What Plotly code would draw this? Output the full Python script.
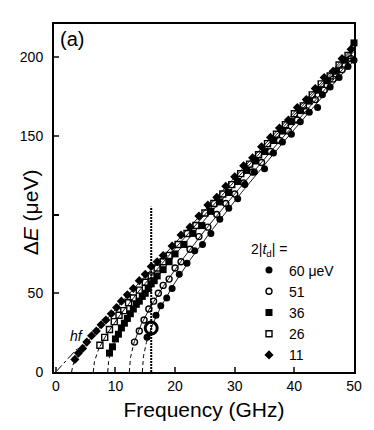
import numpy as np
import plotly.graph_objects as go

# ---- data ----
H_PLANCK = 4.1357  # ueV per GHz
couplings = [60, 51, 36, 26, 11]          # 2|t| in ueV
legend_labels = ["60 μeV", "51", "36", "26", "11"]
symbols = ["circle", "circle-open", "square", "square-open", "diamond"]

f60 = [15.3, 16.8, 17.6, 18.6, 19.5, 20.7, 22.0, 23.3, 24.6, 26.0, 27.5, 29.0, 30.5, 31.7,
       33.3, 35.0, 36.5, 38.0, 39.5, 41.0, 42.5, 43.9, 44.7, 46.0, 47.5, 49.0, 50.0]
e60 = [22, 36, 42, 47, 53, 62, 69, 77, 81, 88, 97, 104, 110, 119,
       127, 129, 139, 146, 151, 159, 165, 168, 176, 181, 187, 194, 198]

f51 = [13.2, 14.0, 14.8, 15.6, 16.4, 17.2, 18.0, 19.0, 20.0, 21.0, 22.5, 24.0, 25.5, 27.0,
       28.5, 30.0, 31.5, 33.0, 34.5, 36.0, 37.5, 39.0, 40.5, 42.0, 43.5, 45.0, 46.5, 48.0, 49.5]
e51 = [19, 26, 33, 40, 45, 50, 55, 59, 66, 70, 78, 86, 92, 100,
       107, 113, 120, 127, 133, 140, 147, 153, 160, 166, 173, 179, 186, 192, 199]

f36 = [9.0, 9.5, 10.0, 10.5, 11.0, 11.5, 12.0, 12.5, 13.0, 13.5, 14.0, 14.5, 15.0, 15.5,
       16.0, 16.5, 17.0, 18.0, 19.0, 20.0, 21.5, 23.0, 24.5, 26.0, 27.5, 29.0, 30.5, 32.0,
       33.5, 35.0, 36.5, 38.0, 39.5, 41.0, 42.5, 44.0, 45.5, 47.0, 48.5, 50.0]
e36 = [12, 16, 21, 24, 28, 31, 34, 37, 40, 43, 45, 48, 50, 53,
       56, 58, 61, 65, 70, 75, 81, 88, 93, 102, 108, 114, 121, 128,
       134, 140, 147, 153, 159, 166, 172, 179, 185, 191, 198, 209]

f26 = [7.4, 8.2, 9.0, 9.8, 10.6, 11.4, 12.2, 13.0, 14.0, 15.0, 16.0, 17.0, 18.0, 19.0,
       20.5, 22.0, 23.5, 25.0, 26.5, 28.0, 29.5, 31.0, 32.5, 34.0, 35.5, 37.0, 38.5, 40.0,
       41.5, 43.0, 44.5, 46.0, 47.5, 49.0]
e26 = [17, 22, 27, 32, 36, 39, 44, 47, 52, 57, 61, 66, 70, 74,
       81, 88, 93, 101, 107, 113, 119, 126, 132, 138, 145, 151, 157, 164,
       169, 176, 183, 188, 195, 201]

f11 = [3.2, 3.8, 4.5, 5.2, 6.0, 6.8, 7.6, 8.4, 9.3, 10.2, 11.0, 12.0, 13.0, 14.0, 15.0,
       16.0, 17.0, 18.0, 19.5, 21.0, 22.5, 24.0, 25.5, 27.0, 28.5, 30.0, 31.5, 33.0, 34.5,
       36.0, 37.5, 39.0, 40.5, 42.0, 43.5, 45.0, 46.5, 48.0, 49.5]
e11 = [8, 12, 15, 19, 23, 26, 30, 33, 37, 41, 45, 49, 53, 58, 62,
       67, 70, 74, 80, 87, 92, 99, 106, 111, 118, 124, 131, 136, 143,
       149, 155, 160, 168, 173, 180, 187, 191, 199, 205]

series_f = [f60, f51, f36, f26, f11]
series_e = [e60, e51, e36, e26, e11]

marked_freq = 16.0     # vertical dotted line (GHz)
marked_top = 105       # top of the dotted line (ueV)
marked_coupling = 60   # curve on which the big circle sits
hf_max = 3.6           # extent of the hf line (GHz)

x_ticks = [0, 10, 20, 30, 40, 50]
y_ticks_labelled = [0, 50, 150, 200]
y_ticks_unlabelled = [100]


def model(f, t2):
    f = np.asarray(f, dtype=float)
    return np.sqrt(np.clip((H_PLANCK * f) ** 2 - t2 ** 2, 0, None))


FONT = "Liberation Sans, Arial, sans-serif"
fig = go.Figure()

# fitted curves: dashed below the data, solid across it
for t2, fs in zip(couplings, series_f):
    f0 = t2 / H_PLANCK
    fd = np.linspace(f0, fs[0], 40)
    fs_line = np.linspace(fs[0], 50, 200)
    fig.add_trace(go.Scatter(x=fd, y=model(fd, t2), mode="lines",
                             line=dict(color="black", width=1, dash="4px,3px"),
                             showlegend=False, hoverinfo="skip"))
    fig.add_trace(go.Scatter(x=fs_line, y=model(fs_line, t2), mode="lines",
                             line=dict(color="black", width=0.9),
                             showlegend=False, hoverinfo="skip"))

# hf line
fh = np.linspace(0, hf_max, 20)
fig.add_trace(go.Scatter(x=fh, y=H_PLANCK * fh, mode="lines",
                         line=dict(color="black", width=1, dash="dashdot"),
                         showlegend=False, hoverinfo="skip"))

# vertical dotted marker line
fig.add_trace(go.Scatter(x=[marked_freq, marked_freq], y=[0, marked_top], mode="lines",
                         line=dict(color="black", width=2, dash="2px,1px"),
                         showlegend=False, hoverinfo="skip"))

# data
for lab, sym, fs, es in zip(legend_labels, symbols, series_f, series_e):
    is_open = sym.endswith("open")
    fig.add_trace(go.Scatter(
        x=fs, y=es, mode="markers", name=lab,
        marker=dict(symbol=sym, size=7 if not is_open else 6, color="black",
                    line=dict(color="black", width=1.4 if is_open else 0)),
        cliponaxis=False))

# big open circle on the marked curve
fig.add_trace(go.Scatter(x=[marked_freq], y=model([marked_freq], marked_coupling),
                         mode="markers",
                         marker=dict(symbol="circle-open", size=12, color="black",
                                     line=dict(color="black", width=3)),
                         showlegend=False, hoverinfo="skip"))

# the page body has an 8px default margin, so the figure is 8px smaller
fig.update_layout(
    width=366, height=422,
    margin=dict(l=39, r=16, t=16, b=55),
    paper_bgcolor="white", plot_bgcolor="white",
    font=dict(family=FONT, color="black", size=14),
    showlegend=True,
    legend=dict(x=0.65, y=0.39, xanchor="left", yanchor="top",
                bgcolor="rgba(0,0,0,0)", font=dict(size=14, family=FONT),
                title=dict(text="2|<i>t</i><sub>d</sub>| =", font=dict(size=14, family=FONT)),
                itemwidth=30, tracegroupgap=0),
    xaxis=dict(range=[-0.3, 50], tickvals=x_ticks, ticks="inside", ticklen=5, tickwidth=1.5,
               showline=True, linewidth=2, linecolor="black", mirror=True, showgrid=False,
               zeroline=False, tickfont=dict(size=14), ticklabelstandoff=0,
               title=dict(text="Frequency (GHz)", font=dict(size=21), standoff=10)),
    yaxis=dict(range=[0, 221], tickvals=y_ticks_labelled, ticks="inside",
               ticklen=5, tickwidth=1.5, showline=True, linewidth=2, linecolor="black",
               mirror=True, showgrid=False, zeroline=False, tickfont=dict(size=14),
               ticklabelstandoff=6,
               minor=dict(tickvals=y_ticks_unlabelled, ticks="inside", ticklen=5,
                          tickwidth=1.5, tickcolor="black", showgrid=False)),
    annotations=[
        dict(text="Δ<i>E</i> (μeV)", xref="paper", yref="paper", x=-0.08, y=0.459,
             textangle=-90, showarrow=False, font=dict(size=21), xanchor="center",
             yanchor="middle"),
        dict(text="(a)", xref="paper", yref="paper", x=0.012, y=0.995, xanchor="left",
             yanchor="top", showarrow=False, font=dict(size=20)),
        dict(text="<i>hf</i>", xref="x", yref="y", x=hf_max, y=H_PLANCK * hf_max + 8,
             showarrow=False, font=dict(size=14), xanchor="center", yanchor="middle"),
    ],
)

fig.write_html("out.html")
